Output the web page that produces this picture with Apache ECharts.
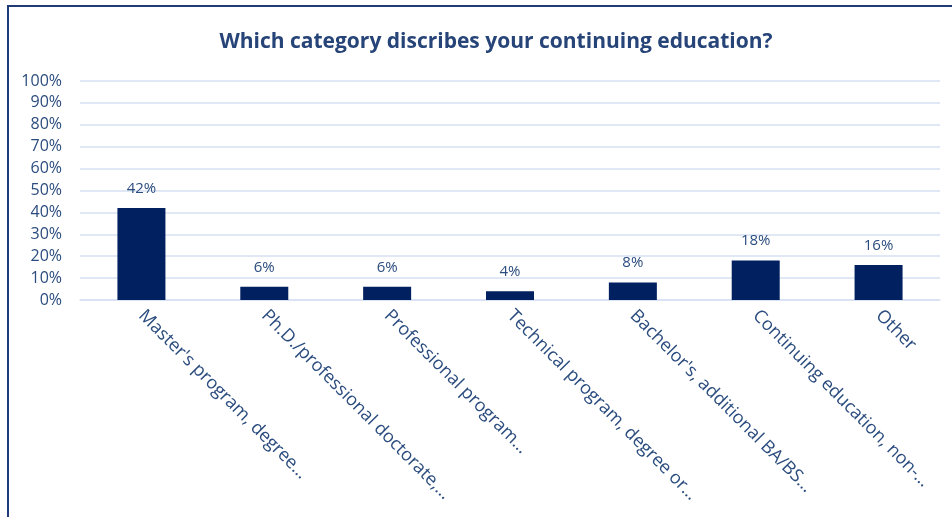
<!DOCTYPE html>
<html>
<head>
<meta charset="utf-8">
<script src="https://cdn.jsdelivr.net/npm/echarts@6/dist/echarts.min.js"></script>
<style>
  html, body { margin: 0; padding: 0; background: #ffffff; }
  #chart { width: 952px; height: 517px; }
</style>
</head>
<body>
<div id="chart"></div>
<script>
// Survey answers: share of respondents per type of continuing education
const categories = [
  "Master's program, degree…",
  "Ph.D./professional doctorate,…",
  "Professional program…",
  "Technical program, degree or…",
  "Bachelor's, additional BA/BS…",
  "Continuing education, non-…",
  "Other"
];
const shares = [42, 6, 6, 4, 8, 18, 16];
const yTicks = [0, 10, 20, 30, 40, 50, 60, 70, 80, 90, 100];

const textColor = '#2b4c7e';
const font = 'Open Sans';

const chart = echarts.init(document.getElementById('chart'), null, { renderer: 'canvas' });
chart.setOption({
  backgroundColor: '#ffffff',
  animation: false,
  title: {
    text: 'Which category discribes your continuing education?',
    left: 491,
    top: 27,
    textAlign: 'center',
    textStyle: { fontFamily: font, fontSize: 21, fontWeight: 'bold', color: '#264478' }
  },
  graphic: [{
    type: 'rect',
    shape: { x: 8, y: 6, width: 1000, height: 600 },
    style: { fill: 'none', stroke: '#1f3a78', lineWidth: 2 },
    silent: true
  }],
  grid: { left: 80, right: 12, top: 81, bottom: 217, containLabel: false },
  xAxis: {
    type: 'category',
    data: categories,
    axisLine: { show: true, lineStyle: { color: '#d6e1f2', width: 1.5 } },
    axisTick: { show: false },
    axisLabel: {
      rotate: -45,
      interval: 0,
      margin: 13,
      fontFamily: font,
      fontSize: 18,
      color: textColor
    }
  },
  yAxis: {
    type: 'value',
    min: yTicks[0],
    max: yTicks[yTicks.length - 1],
    interval: 10,
    axisLine: { show: false },
    axisTick: { show: false },
    splitLine: { lineStyle: { color: '#d6e1f2', width: 1.5 } },
    axisLabel: {
      margin: 18,
      fontFamily: font,
      fontSize: 16,
      color: textColor,
      formatter: v => v + '%'
    }
  },
  series: [{
    type: 'bar',
    data: shares,
    barWidth: 48,
    itemStyle: { color: '#002060' },
    label: {
      show: true,
      position: 'top',
      distance: 12,
      fontFamily: font,
      fontSize: 15,
      color: textColor,
      formatter: p => p.value + '%'
    }
  }]
});
</script>
</body>
</html>
